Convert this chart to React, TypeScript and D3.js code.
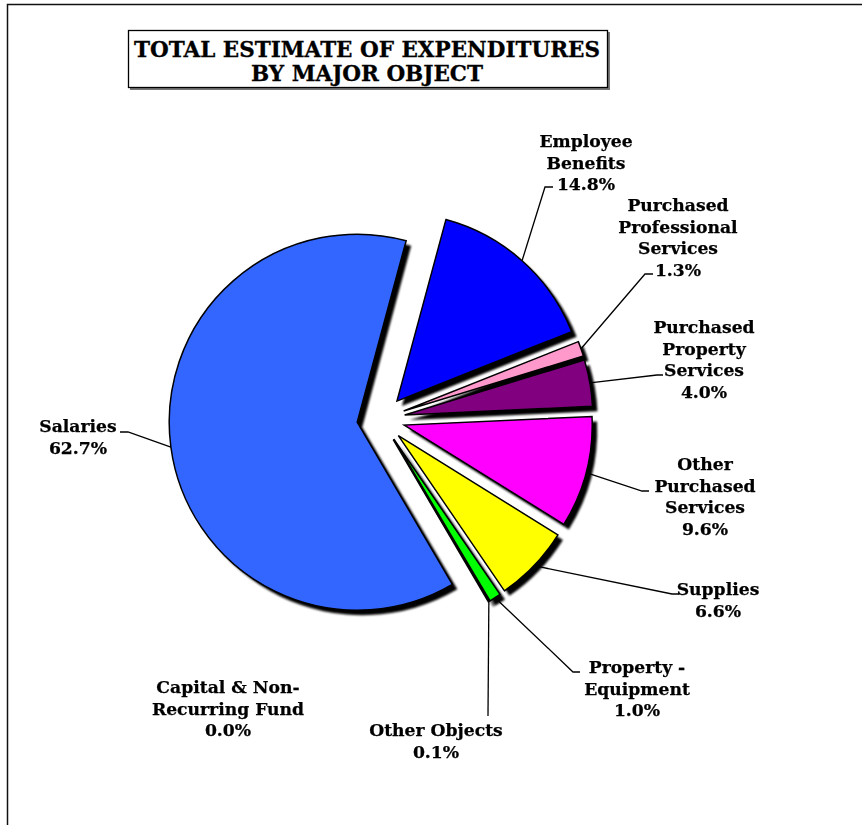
import React from 'react';
import * as d3 from 'd3';

// data
const categories = [
  'Salaries',
  'Employee Benefits',
  'Purchased Professional Services',
  'Purchased Property Services',
  'Other Purchased Services',
  'Supplies',
  'Property - Equipment',
  'Other Objects',
  'Capital & Non-Recurring Fund',
];
const shares = [62.7, 14.8, 1.3, 4.0, 9.6, 6.6, 1.0, 0.1, 0.0];
const labelLines = [
  ['Salaries'],
  ['Employee', 'Benefits'],
  ['Purchased', 'Professional', 'Services'],
  ['Purchased', 'Property', 'Services'],
  ['Other', 'Purchased', 'Services'],
  ['Supplies'],
  ['Property -', 'Equipment'],
  ['Other Objects'],
  ['Capital & Non-', 'Recurring Fund'],
];
const colors = ['#3366FF', '#0000FF', '#FF99CC', '#800080', '#FF00FF', '#FFFF00', '#00FF00', '#00CCCC', '#FF0000'];
const titleLines = ['TOTAL ESTIMATE OF EXPENDITURES', 'BY MAJOR OBJECT'];

// label placement (layout only)
const labelLayout = [
  { cx: 78, y: 432, elbow: [128, 432], end: [120, 432] },
  { cx: 586, y: 147, elbow: [545, 187], end: [553, 187] },
  { cx: 678, y: 211, elbow: [645, 274], end: [653, 274] },
  { cx: 704, y: 333, elbow: [657, 375], end: [663, 375] },
  { cx: 705, y: 470, elbow: [642, 491], end: [649, 491] },
  { cx: 718, y: 595, elbow: [672, 594], end: [679, 594] },
  { cx: 637, y: 673, elbow: [573, 672], end: [580, 672] },
  { cx: 436, y: 736, elbow: [488, 716], end: [488, 716] },
  { cx: 228, y: 693, elbow: null, end: null },
];

const W = 862;
const H = 825;
const cx = 381;
const cy = 419;
const radius = 188;
const explode = 24;
const lineH = 21.5;
const font = '"DejaVu Serif", serif';

export default function App() {
  const rows = categories.map((c, i) => ({ name: c, value: shares[i], i }));
  const a0 = (149.6 * Math.PI) / 180;
  const pie = d3.pie<any>().sort(null).value(d => d.value).startAngle(a0).endAngle(a0 + 2 * Math.PI);
  const arcs = pie(rows);
  const arc = d3.arc<any>().innerRadius(0).outerRadius(radius);

  const offset = (a: any) => {
    const m = (a.startAngle + a.endAngle) / 2;
    return [Math.sin(m) * explode, -Math.cos(m) * explode];
  };
  const rim = (a: any) => {
    const m = (a.startAngle + a.endAngle) / 2;
    const [ox, oy] = offset(a);
    return [cx + ox + Math.sin(m) * radius, cy + oy - Math.cos(m) * radius];
  };

  const visible = arcs.filter(a => a.data.value > 0);

  return (
    <svg width={W} height={H} style={{ position: 'absolute', left: 0, top: 0, background: '#fff' }}>
      <defs>
        <filter id="blur" x="-10%" y="-10%" width="120%" height="120%">
          <feGaussianBlur stdDeviation="1.1" />
        </filter>
      </defs>
      <rect x={7.5} y={4.5} width={W + 20} height={H + 20} fill="#fff" stroke="#111" strokeWidth={1.5} />

      {/* title */}
      <rect x={130} y={32} width={480} height={58} fill="#777" />
      <rect x={128.5} y={30.5} width={479} height={57} fill="#fff" stroke="#000" strokeWidth={1.3} />
      {titleLines.map((t, k) => (
        <text key={t} x={367} y={57 + k * 23.5} textAnchor="middle" fontFamily={font} fontWeight="bold" fontSize={21.5} fill="#000" stroke="#000" strokeWidth={0.3}>
          {t}
        </text>
      ))}

      {/* shadows */}
      <g filter="url(#blur)">
        {visible.map(a => {
          const [ox, oy] = offset(a);
          return <path key={'s' + a.index} d={arc(a) as string} transform={`translate(${cx + ox + 5},${cy + oy + 5})`} fill="#000" />;
        })}
      </g>

      {/* slices */}
      {visible.map(a => {
        const [ox, oy] = offset(a);
        return (
          <path
            key={'p' + a.index}
            d={arc(a) as string}
            transform={`translate(${cx + ox},${cy + oy})`}
            fill={colors[a.data.i]}
            stroke="#000"
            strokeWidth={1.5}
            strokeLinejoin="miter"
          />
        );
      })}

      {/* leaders */}
      {arcs.map(a => {
        const L = labelLayout[a.data.i];
        if (!L.elbow) return null;
        const p = rim(a);
        return (
          <polyline
            key={'l' + a.index}
            points={`${p[0]},${p[1]} ${L.elbow[0]},${L.elbow[1]} ${L.end![0]},${L.end![1]}`}
            fill="none"
            stroke="#000"
            strokeWidth={1.3}
          />
        );
      })}

      {/* labels */}
      {arcs.map(a => {
        const L = labelLayout[a.data.i];
        const lines = [...labelLines[a.data.i], a.data.value.toFixed(1) + '%'];
        return (
          <text key={'t' + a.index} fontFamily={font} fontWeight="bold" fontSize={17.2} fill="#000" stroke="#000" strokeWidth={0.25} textAnchor="middle">
            {lines.map((s, k) => (
              <tspan key={k} x={L.cx} y={L.y + k * lineH}>
                {s}
              </tspan>
            ))}
          </text>
        );
      })}
    </svg>
  );
}
